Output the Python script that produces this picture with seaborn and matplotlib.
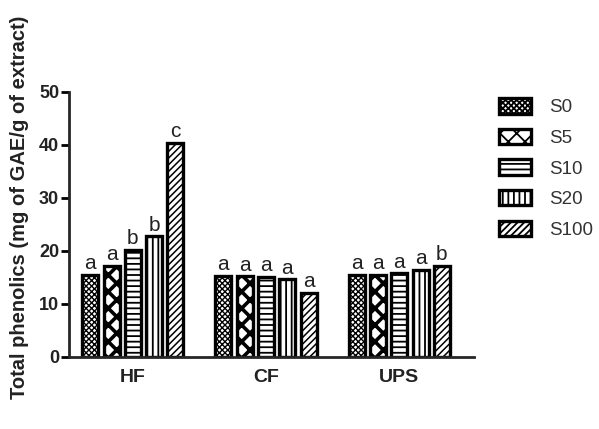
import seaborn as sns
import matplotlib.pyplot as plt
import pandas as pd

extracts = ["HF", "CF", "UPS"]
treatments = ["S0", "S5", "S10", "S20", "S100"]
hf = [15.5, 17.1, 20.2, 22.7, 40.3]
cf = [15.3, 15.2, 15.1, 14.6, 12.0]
ups = [15.4, 15.5, 15.7, 16.4, 17.1]
letters_hf = ["a", "a", "b", "b", "c"]
letters_cf = ["a", "a", "a", "a", "a"]
letters_ups = ["a", "a", "a", "a", "b"]
hatches = ["xxxxxx", "xx", "---", "|||", "/////"]
hatch_widths = [1.0, 2.6, 1.3, 1.3, 1.1]

rows = []
for ext, vals in zip(extracts, [hf, cf, ups]):
    for t, v in zip(treatments, vals):
        rows.append({"extract": ext, "treatment": t, "value": v})
data = pd.DataFrame(rows)
letters = {"HF": letters_hf, "CF": letters_cf, "UPS": letters_ups}

sns.set_style("ticks")
plt.rcParams["font.family"] = ["Liberation Sans", "DejaVu Sans"]
plt.rcParams["hatch.linewidth"] = 1.3

fig = plt.figure(figsize=(5.99, 4.29), dpi=100)
ax = fig.add_axes([0.115, 0.1685, 0.676, 0.618])

sns.barplot(data=data, x="extract", y="value", hue="treatment", width=0.8,
            gap=0.25, ax=ax, legend=False)

for i, cont in enumerate(ax.containers):
    for j, bar in enumerate(cont.patches):
        bar.set_facecolor("white")
        bar.set_edgecolor("black")
        bar.set_linewidth(2.4)
        bar.set_hatch(hatches[i])
        if hasattr(bar, "set_hatch_linewidth"):
            bar.set_hatch_linewidth(hatch_widths[i])
        ext = extracts[j]
        ax.text(bar.get_x() + bar.get_width() / 2, bar.get_height() + 0.3,
                letters[ext][i], ha="center", va="bottom", fontsize=15,
                color="#222222")

ax.set_xlim(-0.48, 2.56)
ax.set_ylim(0, 50)
ax.set_yticks([0, 10, 20, 30, 40, 50])
ax.set_xlabel("")
ax.set_ylabel("Total phenolics (mg of GAE/g of extract)", fontsize=14.5,
              fontweight="bold", color="#222222")
ax.yaxis.set_label_coords(-0.098, 0.563)
for lab in ax.get_yticklabels():
    lab.set_fontweight("bold")
    lab.set_fontsize(13)
for lab in ax.get_xticklabels():
    lab.set_fontweight("bold")
    lab.set_fontsize(14)
ax.tick_params(axis="x", length=0, pad=9, colors="#222222")
ax.tick_params(axis="y", width=2, length=6, pad=1, colors="#222222")
ax.tick_params(axis="y", color="black")
for s in ["left", "bottom"]:
    ax.spines[s].set_linewidth(2)
sns.despine(ax=ax)

handles = [ax.containers[i].patches[0] for i in range(len(treatments))]
fig.legend(handles, treatments, loc="upper left", bbox_to_anchor=(0.82, 0.789),
           frameon=False, fontsize=13.5, handlelength=1.7, handleheight=0.9,
           labelspacing=0.66, handletextpad=1.0, labelcolor="#333333",
           borderaxespad=0)

fig.savefig("out.png", dpi=100)
